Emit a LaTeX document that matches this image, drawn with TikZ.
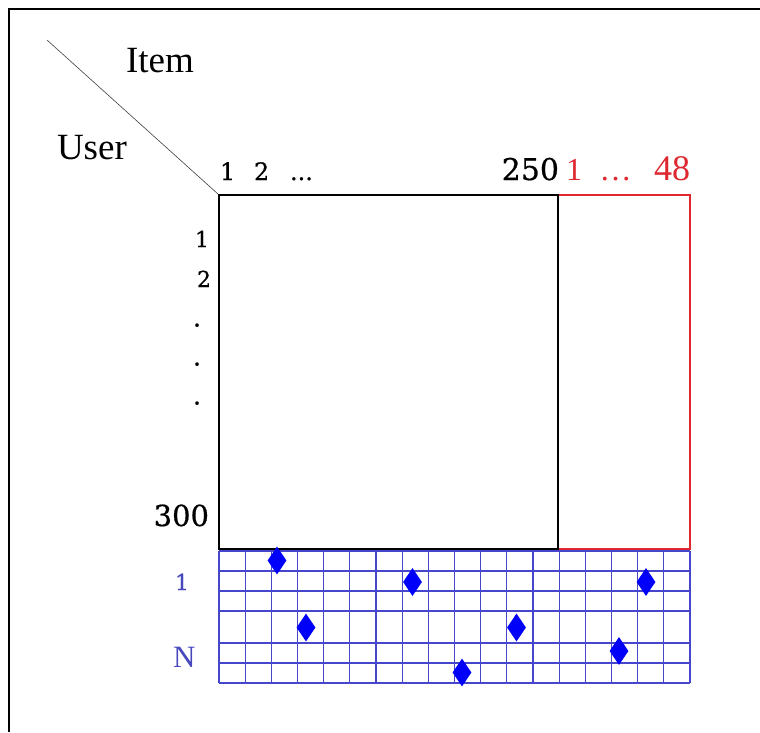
\documentclass[tikz,border=0pt]{standalone}
\usepackage{fontspec}
\usetikzlibrary{shapes.geometric}
\newfontfamily\tnr{Liberation Serif}
\newfontfamily\dvs[FakeBold=0.6]{DejaVu Serif}
\definecolor{redc}{RGB}{222,40,48}
\definecolor{gridc}{RGB}{70,70,205}
\definecolor{bluetext}{RGB}{72,72,190}
\definecolor{diam}{RGB}{0,0,250}
\tikzset{
  lbl/.style={inner sep=0pt, outer sep=0pt},
  gridline/.style={draw=gridc, line width=1.3pt},
  mark diamond/.style={shape=diamond, fill=diam, draw=none, inner sep=0pt,
    minimum width=19pt, minimum height=28pt},
}
\begin{document}
\begin{tikzpicture}[x=1pt,y=-1pt]
\useasboundingbox (0,0) rectangle (760,732);
% outer frame
\draw[line width=2pt] (9,732) -- (9,9) -- (760,9);
% boxes
\node[draw=redc, line width=1.1pt, minimum width=132pt, minimum height=354pt, inner sep=0pt] (extra) at (624,372) {};
\node[draw=black, line width=1.5pt, minimum width=339pt, minimum height=354pt, inner sep=0pt] (main) at (388.5,372) {};
% diagonal header line
\coordinate (diagstart) at (47,40);
\draw[line width=0.6pt, black!75] (diagstart) -- (main.north west);
% header texts
\node[lbl, anchor=base west, font=\tnr\fontsize{37}{42}\selectfont] (item) at (126,72.5) {Item};
\node[lbl, anchor=base west, font=\tnr\fontsize{37}{42}\selectfont] (user) at (57,159) {User};
% column labels
\node[lbl, anchor=base west, font=\dvs\fontsize{24}{27}\selectfont] (c1) at (220,180) {1};
\node[lbl, anchor=base west, font=\dvs\fontsize{24}{27}\selectfont] (c2) at (254,180) {2};
\node[lbl, anchor=base west, font=\dvs\fontsize{24}{27}\selectfont] (cdots) at (290,180) {...};
\node[lbl, anchor=base east, font=\dvs\fontsize{30}{34}\selectfont] (c250) at (559,180) {250};
\node[lbl, anchor=base west, text=redc, font=\tnr\fontsize{32}{36}\selectfont] (r1) at (566,180) {1};
\node[lbl, anchor=base west, text=redc, font=\tnr\fontsize{32}{36}\selectfont] (rdots) at (599.5,180) {…};
\node[lbl, anchor=base east, text=redc, font=\tnr\fontsize{36}{40}\selectfont] (r48) at (690,180) {48};
% row labels
\node[lbl, anchor=base east, font=\dvs\fontsize{22}{26}\selectfont] (u1) at (209,247) {1};
\node[lbl, anchor=base east, font=\dvs\fontsize{22}{26}\selectfont] (u2) at (211,287) {2};
\node[lbl, anchor=base, font=\dvs\fontsize{26}{30}\selectfont] (d1) at (197,326.5) {.};
\node[lbl, anchor=base, font=\dvs\fontsize{26}{30}\selectfont] (d2) at (197,365.5) {.};
\node[lbl, anchor=base, font=\dvs\fontsize{26}{30}\selectfont] (d3) at (197,404.5) {.};
\node[lbl, anchor=base east, font=\dvs\fontsize{29}{32}\selectfont] (u300) at (209,526) {300};
\node[lbl, anchor=base east, text=bluetext, font=\dvs\fontsize{22}{26}\selectfont] (b1) at (189,590) {1};
\node[lbl, anchor=base west, text=bluetext, font=\tnr\fontsize{31}{35}\selectfont] (bN) at (173,667) {N};
% grid
\foreach \i in {0,...,18} {
  \draw[gridline] ({219+\i*26.1667},551) -- ({219+\i*26.1667},683);
}
\foreach \yy in {551,571,591,611,643,663,683} {
  \draw[gridline] (219,\yy) -- (690,\yy);
}
% diamonds
\node[mark diamond] (m1) at (277,560.5) {};
\node[mark diamond] (m2) at (412.5,582) {};
\node[mark diamond] (m3) at (646,582) {};
\node[mark diamond] (m4) at (306,627.5) {};
\node[mark diamond] (m5) at (516.5,627.5) {};
\node[mark diamond] (m6) at (619,651) {};
\node[mark diamond] (m7) at (462,672.5) {};
\end{tikzpicture}
\end{document}
